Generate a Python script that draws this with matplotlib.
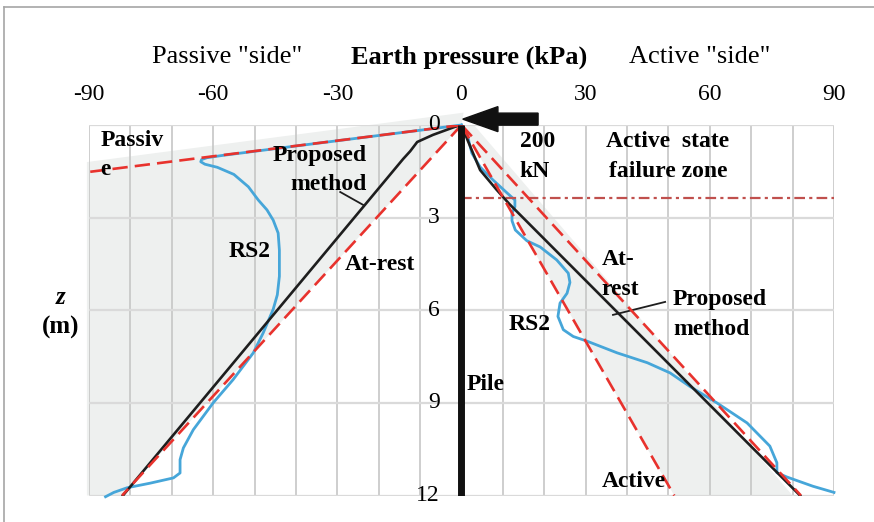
import numpy as np
import matplotlib
matplotlib.use('Agg')
import matplotlib.pyplot as plt
from matplotlib.lines import Line2D
from matplotlib.patches import FancyArrow

plt.rcParams['font.family'] = ['Liberation Serif', 'DejaVu Serif']

########### Data (pressure in kPa, depth z in m) ###########

x_ticks = [-90, -60, -30, 0, 30, 60, 90]
x_tick_labels = ['-90', '-60', '-30', '0', '30', '60', '90']
z_ticks = [0, 3, 6, 9, 12]

# theoretical lines
passive_p = [0, -90]
passive_z = [0, 1.52]
atrest_left_p = [0, -82]
atrest_left_z = [0, 12]
atrest_right_p = [0, 82]
atrest_right_z = [0, 12]
active_p = [0, 51.4]
active_z = [0, 12]

# proposed method
prop_left_p = [0, -1.6, -6.9, -10.7, -12.4, -14.1, -81.8]
prop_left_z = [0, 0.06, 0.32, 0.55, 0.85, 1.1, 12]
prop_right_p = [0, 1.5, 4.5, 8.5, 11.5, 81.8]
prop_right_z = [0, 0.5, 1.46, 2.1, 2.55, 12]

# RS2 results
rs2_left_p = [0, -20, -40, -58, -61.5, -62.8, -63, -62, -59, -55, -51.5, -49.1, -47, -45.5,
              -44.3, -44, -44, -44.5, -45.5, -47.9, -50.3, -55.2, -60, -64.8, -67.2, -68,
              -68, -69.6, -75.2, -80.8, -84, -86]
rs2_left_z = [0, 0.34, 0.68, 0.99, 1.06, 1.12, 1.19, 1.27, 1.37, 1.6, 2.0, 2.43, 2.75, 3.08,
              3.5, 4.05, 4.9, 5.5, 5.97, 6.73, 7.38, 8.25, 9.0, 9.87, 10.46, 10.84,
              11.27, 11.43, 11.6, 11.75, 11.9, 12.04]
rs2_right_p = [0, 1.3, 2.5, 4.5, 7.6, 11, 12.9, 12.9, 12.2, 12.2, 13, 15.8, 19, 23, 25.8,
               26.2, 25.5, 23.8, 23.3, 24.6, 27, 30.3, 37.6, 44.9, 50.4, 55.2, 61.7, 69,
               74.5, 76.2, 76.2, 78.6, 84.9, 90]
rs2_right_z = [0, 0.26, 0.91, 1.36, 1.78, 2.2, 2.43, 2.65, 2.86, 3.1, 3.4, 3.75, 3.95, 4.37,
               4.8, 5.1, 5.45, 5.77, 6.2, 6.63, 6.85, 7.0, 7.38, 7.7, 8.03, 8.47, 9.0, 9.65,
               10.4, 10.94, 11.26, 11.4, 11.7, 11.9]

# shaded zones
shade_left_p = [-90.5, 0.5, 0, -82, -90.5]
shade_left_z = [1.2, -0.4, 0, 12, 12]
shade_right_p = [0, 3, 80, 51.4]
shade_right_z = [0, 0, 12, 12]

failure_z = 2.38
load_kN = 200

############ Figure ############

fig = plt.figure(figsize=(8.74, 5.22), dpi=100)
ax = fig.add_axes([89/874, 26.5/522, 745/874, 370.5/522])
ax.set_xlim(-90, 90)
ax.set_ylim(12, 0)

red = '#e8322d'
blue = '#46a6d9'
dark = '#1e1e1e'
fs_lab = 17

# grid
for p in np.arange(-90, 91, 10):
    ax.axvline(p, color='#c6c6c6', lw=1.2, zorder=0.5)
for z in z_ticks:
    ax.axhline(z, color='#dadada', lw=1.6, zorder=0.5)

ax.fill(shade_left_p, shade_left_z, color='#eef0ef', zorder=0.2, clip_on=False, lw=0)
ax.fill(shade_right_p, shade_right_z, color='#eef0ef', zorder=0.2, lw=0)

dash = (0, (5.8, 2.7))
ax.plot(passive_p, passive_z, color=red, lw=1.9, ls=dash, zorder=4)
ax.plot(atrest_left_p, atrest_left_z, color=red, lw=1.9, ls=dash, zorder=4)
ax.plot(atrest_right_p, atrest_right_z, color=red, lw=1.9, ls=dash, zorder=4)
ax.plot(active_p, active_z, color=red, lw=1.9, ls=dash, zorder=4)

ax.plot(rs2_left_p, rs2_left_z, color=blue, lw=2.0, zorder=2, clip_on=False)
ax.plot(rs2_right_p, rs2_right_z, color=blue, lw=2.0, zorder=2, clip_on=False)
ax.plot(prop_left_p, prop_left_z, color=dark, lw=1.9, zorder=3)
ax.plot(prop_right_p, prop_right_z, color=dark, lw=1.9, zorder=3)

ax.plot([0, 90], [failure_z, failure_z], color='#c0504d', lw=1.6,
        ls=(0, (4.8, 1.9, 1.4, 1.9)), zorder=2)

# pile and load
ax.plot([0, 0], [0, 12], color='#111111', lw=5, solid_capstyle='butt', zorder=5)
ax.add_patch(FancyArrow(18.5, -0.19, -18.2, 0, width=0.39, head_width=0.81,
                        head_length=8.5, length_includes_head=True,
                        color='#111111', clip_on=False, zorder=6))

# axes decoration
for s in ax.spines.values():
    s.set_visible(False)
ax.set_yticks([])
ax.set_xticks([])
for p, lab in zip(x_ticks, x_tick_labels):
    ax.text(p, -1.0, lab, ha='center', va='center', fontsize=17)
for z in z_ticks:
    ax.text(-5.2, z, str(z), ha='right', va='center', fontsize=17, zorder=7)

fig.text(469/874, 1 - 57/522, 'Earth pressure (kPa)', ha='center', va='center',
         fontsize=19, fontweight='bold')
fig.text(227/874, 1 - 57/522, 'Passive "side"', ha='center', va='center', fontsize=19)
fig.text(700/874, 1 - 57/522, 'Active "side"', ha='center', va='center', fontsize=19)
fig.text(61/874, 1 - 298/522, 'z', ha='center', va='center', fontsize=18,
         fontweight='bold', style='italic')
fig.text(61/874, 1 - 327/522, '(m)', ha='center', va='center', fontsize=18,
         fontweight='bold')

# annotations
kw = dict(fontsize=fs_lab, fontweight='bold', va='center', linespacing=1.55, zorder=8)
ax.text(-87.3, 0.97, 'Passiv\ne', ha='left', **kw)
ax.text(-22.8, 1.46, 'Proposed\nmethod', ha='right', multialignment='right', **kw)
ax.plot([-29.3, -23.6], [2.17, 2.6], color=dark, lw=1.3, zorder=3)
ax.text(-51.1, 4.11, 'RS2', ha='center', **kw)
ax.text(-19.7, 4.53, 'At-rest', ha='center', **kw)
ax.text(14.1, 1.02, '%d\nkN' % load_kN, ha='left', **kw)
ax.text(49.9, 1.02, 'Active  state\nfailure zone', ha='center', multialignment='center', **kw)
ax.text(33.9, 4.84, 'At-\nrest', ha='left', **kw)
ax.text(51.1, 6.15, 'Proposed\nmethod', ha='left', **kw)
ax.plot([36.6, 49.2], [6.15, 5.73], color=dark, lw=1.3, zorder=3)
ax.text(16.5, 6.47, 'RS2', ha='center', **kw)
ax.text(1.3, 8.41, 'Pile', ha='left', **kw)
ax.text(33.9, 11.55, 'Active', ha='left', **kw)

# outer frame (only top/left visible)
fig.add_artist(Line2D([3.5/874, 3.5/874], [0, 1 - 7/522], color='#a6a6a6', lw=1.2))
fig.add_artist(Line2D([3.5/874, 1], [1 - 7/522, 1 - 7/522], color='#a6a6a6', lw=1.2))

fig.savefig('out.png', dpi=100)
